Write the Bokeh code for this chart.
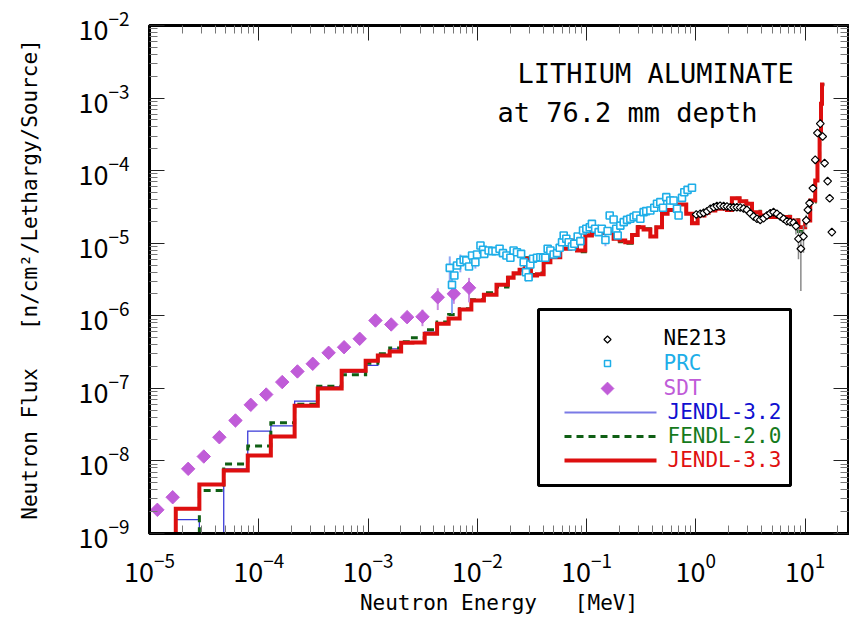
import numpy as np
from bokeh.plotting import figure
from bokeh.models import LogAxis, FixedTicker, Label, BoxAnnotation, CustomJSTickFormatter
from bokeh.embed import file_html
from bokeh.resources import INLINE

# ---------------- data ----------------
# calculated group fluxes (group boundaries in MeV, flux per lethargy)
group_edges = [1.74e-5, 2.86e-5, 4.78e-5, 7.93e-5, 1.29e-4, 2.13e-4, 3.47e-4, 5.74e-4,
               9.52e-4, 1.23e-3, 1.58e-3, 2.01e-3, 2.55e-3, 3.30e-3, 4.29e-3, 5.47e-3,
               6.90e-3, 8.83e-3, 1.15e-2, 1.50e-2, 1.91e-2, 2.15e-2, 2.44e-2, 2.75e-2,
               3.10e-2, 3.52e-2, 4.05e-2, 4.67e-2, 5.75e-2, 7.11e-2, 8.18e-2, 9.75e-2,
               0.112, 0.134, 0.177, 0.201, 0.226, 0.261, 0.294, 0.333, 0.384, 0.435,
               0.491, 0.552, 0.696, 0.818, 0.923, 1.04, 1.20, 1.31, 1.51, 1.93, 2.14,
               2.52, 2.90, 3.27, 3.89, 4.48, 5.93, 7.31, 8.71, 10.04, 11.16, 12.40,
               13.0, 13.6, 14.0, 14.3, 15.0]

jendl33 = [2.19e-9, 4.73e-9, 7.38e-9, 1.19e-8, 2.17e-8, 5.75e-8, 9.95e-8, 1.75e-7,
           2.40e-7, 2.84e-7, 3.22e-7, 4.24e-7, 4.30e-7, 5.65e-7, 7.76e-7, 9.18e-7,
           1.22e-6, 1.63e-6, 1.95e-6, 2.67e-6, 3.34e-6, 3.87e-6, 4.30e-6, 6.10e-6,
           3.59e-6, 3.75e-6, 5.48e-6, 6.40e-6, 8.36e-6, 1.09e-5, 7.94e-6, 1.28e-5,
           1.42e-5, 1.38e-5, 1.15e-5, 1.09e-5, 1.03e-5, 1.30e-5, 1.66e-5, 1.55e-5,
           1.24e-5, 1.66e-5, 2.54e-5, 2.88e-5, 3.41e-5, 2.54e-5, 1.89e-5, 2.41e-5,
           2.62e-5, 2.82e-5, 2.98e-5, 2.88e-5, 4.18e-5, 3.80e-5, 3.49e-5, 2.67e-5,
           2.41e-5, 2.29e-5, 2.29e-5, 2.06e-5, 1.66e-5, 2.06e-5, 3.88e-5, 7.30e-5,
           1.38e-4, 3.22e-4, 8.34e-4, 1.54e-3]

fendl20 = [6.0e-10, 3.91e-9, 9.10e-9, 1.61e-8, 3.35e-8, 6.05e-8, 1.07e-7, 1.54e-7,
           2.22e-7, 3.00e-7, 3.60e-7, 4.40e-7, 5.00e-7, 6.40e-7, 8.20e-7, 1.04e-6,
           1.25e-6, 1.66e-6, 2.07e-6, 2.50e-6, 3.40e-6, 3.80e-6, 4.40e-6, 6.30e-6,
           3.70e-6, 3.90e-6, 5.60e-6, 6.40e-6, 8.50e-6, 1.09e-5, 7.60e-6, 1.30e-5,
           1.60e-5, 1.40e-5, 1.15e-5, 1.05e-5, 1.00e-5, 1.30e-5, 1.70e-5, 1.58e-5,
           1.24e-5, 1.66e-5, 2.60e-5, 2.88e-5, 3.41e-5, 2.54e-5, 1.89e-5, 2.45e-5,
           2.65e-5, 2.82e-5, 3.10e-5, 2.88e-5, 4.18e-5, 3.80e-5, 3.55e-5, 2.75e-5,
           2.41e-5, 2.29e-5, 2.35e-5, 2.10e-5, 1.45e-5, 1.90e-5, 3.70e-5, 7.30e-5,
           1.38e-4, 3.22e-4, 8.34e-4, 1.54e-3]

jendl32 = [1.55e-9, 6.0e-10, 7.78e-9, 2.57e-8, 3.05e-8, 6.65e-8, 1.05e-7, 1.67e-7,
           2.07e-7, 2.84e-7, 3.50e-7, 4.24e-7, 4.30e-7, 5.94e-7, 7.76e-7, 9.18e-7,
           1.22e-6, 1.63e-6, 1.95e-6, 2.67e-6, 3.34e-6, 3.87e-6, 4.30e-6, 6.10e-6,
           3.59e-6, 3.75e-6, 5.48e-6, 6.40e-6, 8.36e-6, 1.09e-5, 7.94e-6, 1.28e-5,
           1.42e-5, 1.38e-5, 1.15e-5, 1.09e-5, 1.03e-5, 1.30e-5, 1.66e-5, 1.55e-5,
           1.24e-5, 1.66e-5, 2.54e-5, 2.88e-5, 3.41e-5, 2.54e-5, 1.89e-5, 2.41e-5,
           2.62e-5, 2.82e-5, 2.98e-5, 2.88e-5, 4.18e-5, 3.80e-5, 3.49e-5, 2.67e-5,
           2.41e-5, 2.29e-5, 2.29e-5, 2.06e-5, 1.60e-5, 2.06e-5, 3.88e-5, 7.30e-5,
           1.38e-4, 3.22e-4, 8.34e-4, 1.54e-3]

# NE213 spectrometer
ne213_e = [1.01, 1.10, 1.18, 1.27, 1.36, 1.46, 1.56, 1.67, 1.80, 1.93, 2.07, 2.22,
           2.38, 2.55, 2.74, 2.94, 3.15, 3.38, 3.63, 3.89, 4.17, 4.48, 4.81, 5.15,
           5.53, 5.93, 6.36, 6.83, 7.31, 7.85, 8.26, 8.71, 9.16, 9.68, 10.26, 10.62,
           11.0, 11.8, 12.4, 13.0, 13.8, 14.5, 15.1, 16.1, 16.8, 17.6]
ne213_f = [2.49e-5, 2.54e-5, 2.62e-5, 2.76e-5, 2.98e-5, 3.13e-5, 3.24e-5, 3.28e-5,
           3.24e-5, 3.21e-5, 3.13e-5, 3.13e-5, 3.13e-5, 3.10e-5, 3.01e-5, 2.88e-5,
           2.59e-5, 2.34e-5, 2.17e-5, 2.10e-5, 2.21e-5, 2.41e-5, 2.59e-5, 2.68e-5,
           2.54e-5, 2.34e-5, 2.17e-5, 2.01e-5, 1.96e-5, 1.91e-5, 1.72e-5, 1.15e-5,
           8.4e-6, 1.24e-5, 2.06e-5, 2.88e-5, 3.57e-5, 5.73e-5, 1.41e-4, 3.30e-4,
           4.44e-4, 2.95e-4, 1.27e-4, 7.16e-5, 4.17e-5, 1.42e-5]
ne213_err = [0, 0, 0, 0, 0, 0, 0, 0, 0, 0, 0, 0, 0, 0, 0, 0, 0, 0, 0, 0, 0, 0, 0, 0,
             0, 0, 0, 1.5e-6, 1.5e-6, 2.0e-6, 4.0e-6, 5.5e-6, 6.2e-6, 5.0e-6, 4.0e-6,
             3.0e-6, 0, 0, 0, 0, 0, 0, 0, 0, 0, 0]

# proton recoil counter
prc_e = [5.6e-3, 5.87e-3, 6.17e-3, 6.53e-3, 7.0e-3, 7.51e-3, 7.94e-3, 8.41e-3, 8.96e-3,
         9.61e-3, 9.95e-3, 1.07e-2, 1.13e-2, 1.16e-2, 1.27e-2, 1.37e-2, 1.47e-2, 1.60e-2,
         1.72e-2, 1.85e-2, 2.01e-2, 2.15e-2, 2.31e-2, 2.52e-2, 2.66e-2, 2.79e-2, 2.95e-2,
         3.06e-2, 3.24e-2, 3.52e-2, 3.78e-2, 4.0e-2, 4.2e-2, 4.41e-2, 4.67e-2, 5.0e-2,
         5.37e-2, 5.68e-2, 5.97e-2, 6.18e-2, 6.53e-2, 6.86e-2, 7.36e-2, 7.73e-2, 8.3e-2,
         8.78e-2, 9.29e-2, 9.96e-2, 0.107, 0.112, 0.120, 0.129, 0.138, 0.149, 0.156,
         0.163, 0.177, 0.187, 0.193, 0.204, 0.219, 0.235, 0.252, 0.270, 0.286, 0.311,
         0.333, 0.352, 0.384, 0.417, 0.442, 0.473, 0.501, 0.537, 0.584, 0.626, 0.673,
         0.696, 0.748, 0.785, 0.841, 0.923]
prc_f = [4.58e-6, 2.67e-6, 3.59e-6, 4.93e-6, 5.47e-6, 5.90e-6, 5.78e-6, 4.78e-6, 6.78e-6,
         5.47e-6, 6.99e-6, 9.29e-6, 8.11e-6, 7.14e-6, 7.94e-6, 7.77e-6, 7.77e-6, 8.37e-6,
         7.30e-6, 6.78e-6, 6.30e-6, 7.94e-6, 7.52e-6, 7.14e-6, 5.47e-6, 3.98e-6, 3.40e-6,
         5.09e-6, 6.10e-6, 6.30e-6, 6.41e-6, 6.30e-6, 6.30e-6, 8.37e-6, 7.94e-6, 6.99e-6,
         7.30e-6, 8.65e-6, 1.03e-5, 1.28e-5, 1.15e-5, 1.03e-5, 9.02e-6, 9.82e-6, 1.24e-5,
         1.07e-5, 1.50e-5, 1.58e-5, 1.66e-5, 1.85e-5, 1.58e-5, 1.42e-5, 1.58e-5, 1.11e-5,
         1.47e-5, 2.41e-5, 2.12e-5, 1.58e-5, 1.28e-5, 1.75e-5, 1.95e-5, 2.10e-5, 2.17e-5,
         2.29e-5, 2.41e-5, 2.17e-5, 2.68e-5, 2.77e-5, 2.83e-5, 3.08e-5, 3.49e-5, 3.68e-5,
         3.08e-5, 4.31e-5, 3.88e-5, 3.88e-5, 2.98e-5, 2.41e-5, 4.22e-5, 5.05e-5, 5.44e-5,
         5.80e-5]
prc_err = [2.0e-6, 1.6e-6, 0, 0, 1.5e-6, 0, 0, 0, 0, 1.0e-6, 0, 0, 0, 0, 0, 0, 0, 0,
           0, 0, 0, 0, 0, 0, 0, 1.0e-6, 0, 0, 0, 0, 0, 0, 0, 0, 0, 0, 0, 0, 0, 0, 0, 0,
           0, 0, 0, 0, 0, 0, 0, 0, 0, 0, 0, 2.0e-6, 0, 0, 0, 2.0e-6, 0, 0, 0, 0, 0, 0,
           0, 0, 0, 0, 0, 0, 0, 0, 0, 0, 0, 0, 0, 0, 0, 0, 0, 0]

# slow-down time spectrometer
sdt_e = [1.18e-5, 1.63e-5, 2.26e-5, 3.14e-5, 4.36e-5, 6.12e-5, 8.45e-5, 1.17e-4, 1.64e-4,
         2.26e-4, 3.12e-4, 4.36e-4, 6.04e-4, 8.39e-4, 1.17e-3, 1.63e-3, 2.28e-3, 3.15e-3,
         4.35e-3, 6.10e-3, 8.41e-3]
sdt_f = [2.12e-9, 3.16e-9, 7.78e-9, 1.15e-8, 2.12e-8, 3.61e-8, 5.93e-8, 8.22e-8, 1.22e-7,
         1.71e-7, 2.18e-7, 3.09e-7, 3.69e-7, 4.82e-7, 8.61e-7, 7.59e-7, 9.57e-7, 9.69e-7,
         1.80e-6, 2.01e-6, 2.43e-6]
sdt_err = [0, 0, 0, 0, 0, 0, 0, 0, 0, 0, 0, 0, 0, 0, 0, 1.2e-7, 1.5e-7, 2.5e-7,
           6.0e-7, 5.5e-7, 9.0e-7]

x_decades = [1e-5, 1e-4, 1e-3, 1e-2, 1e-1, 1e0, 1e1]
y_decades = [1e-9, 1e-8, 1e-7, 1e-6, 1e-5, 1e-4, 1e-3, 1e-2]

# ---------------- colours / fonts ----------------
RED, GREEN, BLUE = "#dd0f0f", "#0f5f14", "#3a3ad8"
CYAN, PURPLE = "#1eaee8", "#c05cd8"
MONO = "DejaVu Sans Mono"
TICKFONT = "Noto Sans CJK JP"
GAP = "\u00a0\u00a0\u00a0"           # wide gap kept in the axis titles

X_LO, X_HI = 1e-5, 25.0
Y_LO, Y_HI = 1e-9, 1e-2
W, H = 849, 626
FL, FR, FT, FB = 149, 848, 25, 533   # frame edges on the canvas
FLOOR = 1e-11                         # below the visible range


def data_x(px):
    lo, hi = np.log10(X_LO), np.log10(X_HI)
    return 10 ** (lo + (px - FL) / (FR - FL) * (hi - lo))


def data_y(py):
    lo, hi = np.log10(Y_LO), np.log10(Y_HI)
    return 10 ** (hi - (py - FT) / (FB - FT) * (hi - lo))


def histogram(edges, vals):
    xs, ys = [edges[0]], [FLOOR]
    for i, v in enumerate(vals):
        xs += [edges[i], edges[i + 1]]
        ys += [v, v]
    return xs, ys


def minor_ticks(decades):
    return [k * d for d in decades[:-1] for k in range(2, 10)]


p = figure(width=W, height=H, x_axis_type="log", y_axis_type="log",
           x_range=(X_LO, X_HI), y_range=(Y_LO, Y_HI),
           output_backend="svg", toolbar_location=None,
           min_border_left=FL, min_border_right=W - FR,
           min_border_top=FT, min_border_bottom=H - FB)
p.background_fill_color = "white"
p.border_fill_color = "white"
p.outline_line_color = "black"
p.outline_line_width = 3
p.xgrid.visible = False
p.ygrid.visible = False

xticker = FixedTicker(ticks=x_decades, minor_ticks=minor_ticks(x_decades + [1e2]))
yticker = FixedTicker(ticks=y_decades, minor_ticks=minor_ticks(y_decades))


def style_axis(ax, ticker):
    ax.ticker = ticker
    ax.axis_line_width = 3
    ax.axis_line_color = "black"
    ax.major_tick_in = 15
    ax.major_tick_out = 0
    ax.minor_tick_in = 8
    ax.minor_tick_out = 0
    ax.major_tick_line_color = "#222222"
    ax.major_tick_line_width = 1
    ax.minor_tick_line_color = "#777777"
    ax.minor_tick_line_width = 1


style_axis(p.xaxis[0], xticker)
style_axis(p.yaxis[0], yticker)
for ax in (p.xaxis[0], p.yaxis[0]):
    ax.major_label_text_font = TICKFONT
    ax.major_label_text_font_size = "27px"
    ax.major_label_text_color = "black"
    ax.axis_label_text_font = MONO
    ax.axis_label_text_font_size = "21px"
    ax.axis_label_text_font_style = "normal"
    ax.axis_label_text_color = "black"

p.xaxis.axis_label = "Neutron Energy" + GAP + "[MeV]"
p.xaxis.major_label_standoff = 19
p.xaxis.axis_label_standoff = 6
p.yaxis.axis_label = "Neutron Flux" + GAP + "[n/cm\u00b2/Lethargy/Source]"
p.yaxis.major_label_standoff = 20
p.yaxis.axis_label_standoff = 34

blank = "return ''"
for side, ticker in (("above", xticker), ("right", yticker)):
    ax = LogAxis(formatter=CustomJSTickFormatter(code=blank))
    style_axis(ax, ticker)
    ax.major_label_text_font_size = "0px"
    ax.major_label_standoff = 0
    p.add_layout(ax, side)

# calculated spectra
for vals, color, width, dash in ((jendl32, BLUE, 1.3, "solid"),
                                 (fendl20, GREEN, 3, "7 5"),
                                 (jendl33, RED, 4, "solid")):
    xs, ys = histogram(group_edges, vals)
    p.line(xs, ys, line_color=color, line_width=width, line_dash=dash, line_join="miter")


# measured spectra with error bars
def error_bars(e, f, err, color, width):
    sel = [i for i, s in enumerate(err) if s > 0]
    p.segment(x0=[e[i] for i in sel], x1=[e[i] for i in sel],
              y0=[max(f[i] - err[i], FLOOR) for i in sel],
              y1=[f[i] + err[i] for i in sel],
              line_color=color, line_width=width)


error_bars(sdt_e, sdt_f, sdt_err, "#c98ae0", 2)
error_bars(prc_e, prc_f, prc_err, "#8fa8f5", 2)
error_bars(ne213_e, ne213_f, ne213_err, "#8a8a8a", 1.5)

p.scatter(sdt_e, sdt_f, marker="square", angle=np.pi / 4, size=9.5,
          fill_color=PURPLE, line_color=PURPLE, line_width=1)
p.scatter(prc_e, prc_f, marker="square", size=7, fill_color="white",
          line_color=CYAN, line_width=1.6)
p.scatter(ne213_e, ne213_f, marker="square", angle=np.pi / 4, size=5.5,
          fill_color="white", line_color="black", line_width=1.2)

# title
for text, px, py in (("LITHIUM ALUMINATE", 517, 73), ("at 76.2 mm depth", 497, 112)):
    p.add_layout(Label(x=data_x(px), y=data_y(py), text=text, text_font=MONO,
                       text_font_size="27px", text_color="black",
                       text_baseline="alphabetic"))

# legend
p.add_layout(BoxAnnotation(left=data_x(538), right=data_x(790),
                           bottom=data_y(485), top=data_y(309),
                           fill_alpha=0, line_color="black", line_width=3,
                           line_alpha=1))

p.scatter([data_x(607)], [data_y(339)], marker="square", angle=np.pi / 4, size=5,
          fill_color="white", line_color="black", line_width=1.2)
p.scatter([data_x(607)], [data_y(363)], marker="square", size=6,
          fill_color="white", line_color=CYAN, line_width=1.5)
p.scatter([data_x(607)], [data_y(388)], marker="square", angle=np.pi / 4, size=9,
          fill_color=PURPLE, line_color=PURPLE)
for py, color, width, dash in ((412, "#7a7ae6", 2, "solid"),
                               (436, GREEN, 3, "7 5"),
                               (460, RED, 4, "solid")):
    p.line([data_x(564), data_x(656)], [data_y(py), data_y(py)],
           line_color=color, line_width=width, line_dash=dash)

legend_rows = (("NE213", "black", 663, 337), ("PRC", CYAN, 663, 362),
               ("SDT", PURPLE, 663, 387), ("JENDL-3.2", "#1010d0", 667, 411),
               ("FENDL-2.0", "#157a1c", 667, 435), ("JENDL-3.3", "#e01010", 667, 459))
for text, color, px, py in legend_rows:
    p.add_layout(Label(x=data_x(px), y=data_y(py), text=text, text_font=MONO,
                       text_font_size="21px", text_color=color,
                       text_baseline="middle"))

open("out.html", "w").write(file_html(p, INLINE))
